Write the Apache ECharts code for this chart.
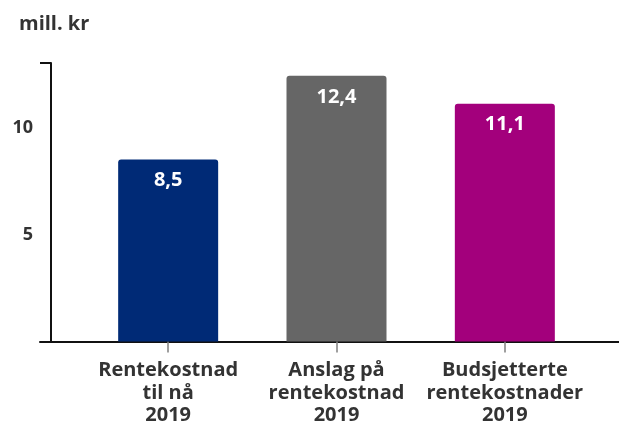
<!DOCTYPE html>
<html>
<head>
<meta charset="utf-8">
<script src="https://cdn.jsdelivr.net/npm/echarts@6/dist/echarts.min.js"></script>
<style>
    html, body { margin: 0; padding: 0; background: #fff; }
    #chart { width: 619px; height: 427px; }
</style>
</head>
<body>
<div id="chart"></div>
<script>
// data
var categories = ['Rentekostnad\ntil nå\n2019', 'Anslag på\nrentekostnad\n2019', 'Budsjetterte\nrentekostnader\n2019'];
var values = [8.5, 12.4, 11.1];
var barColors = ['#002a76', '#666666', '#a3007c'];
var yMax = 13;
var yTickLabels = [5, 10];

var font = 'Open Sans';
var chart = echarts.init(document.getElementById('chart'));
var option = {
    animation: false,
    title: {
        text: 'mill. kr',
        left: 14,
        top: 9,
        textStyle: { fontFamily: font, fontSize: 20, fontWeight: 'bold', color: '#333' }
    },
    // grid 0 = akser og hjelpelinjer, grid 1 = stolpene
    grid: [
        { left: 40, right: 0, top: 63, bottom: 85 },
        { left: 84, right: 30, top: 63, bottom: 85 }
    ],
    xAxis: [{
        gridIndex: 0,
        type: 'value',
        min: 0,
        max: 1,
        axisLine: { show: true, lineStyle: { color: '#111', width: 2 } },
        axisTick: { show: false },
        axisLabel: { show: false },
        splitLine: { show: false }
    }, {
        gridIndex: 1,
        type: 'category',
        data: categories,
        axisLine: { show: false },
        axisTick: { show: true, alignWithLabel: true, length: 11, lineStyle: { color: '#808080', width: 1.5 } },
        axisLabel: {
            fontFamily: font, fontSize: 20, fontWeight: 'bold', color: '#333',
            lineHeight: 22.5, margin: 18, interval: 0
        }
    }],
    yAxis: [{
        gridIndex: 0,
        type: 'value',
        min: 0,
        max: yMax,
        interval: 5,
        offset: -11,
        axisLine: { show: true, onZero: false, lineStyle: { color: '#111', width: 2 } },
        axisTick: { show: true, customValues: [yMax], length: 11, lineStyle: { color: '#111', width: 2 } },
        axisLabel: {
            customValues: yTickLabels,
            fontFamily: font, fontSize: 18, fontWeight: 'bold', color: '#333', margin: 18
        },
        splitLine: {
            show: true, showMinLine: false, showMaxLine: false,
            lineStyle: { color: '#c8c8c8', width: 1.5 }
        }
    }, {
        gridIndex: 1,
        type: 'value',
        min: 0,
        max: yMax,
        show: false,
        splitLine: { show: false }
    }],
    series: [{
        type: 'bar',
        xAxisIndex: 1,
        yAxisIndex: 1,
        barWidth: 100,
        data: values.map(function (v, i) {
            return { value: v, itemStyle: { color: barColors[i], borderRadius: [3, 3, 0, 0] } };
        }),
        label: {
            show: true,
            position: 'insideTop',
            distance: 11,
            fontFamily: font,
            fontSize: 20,
            fontWeight: 'bold',
            color: '#fff',
            formatter: function (p) {
                return String(p.value).replace('.', ',');
            }
        }
    }]
};
chart.setOption(option);
</script>
</body>
</html>
